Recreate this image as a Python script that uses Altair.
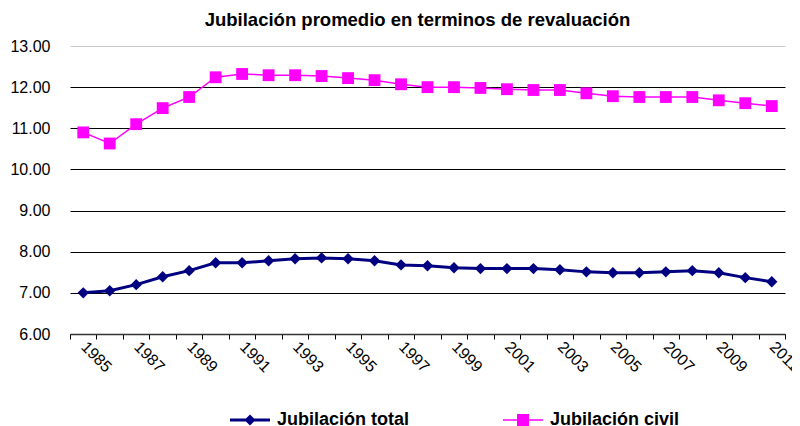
import altair as alt
import pandas as pd

years = [str(y) for y in range(1985, 2012)]
total = [7.00, 7.05, 7.20, 7.39, 7.54, 7.73, 7.73, 7.78, 7.83, 7.85, 7.83, 7.78,
         7.68, 7.66, 7.61, 7.59, 7.59, 7.59, 7.56, 7.51, 7.49, 7.49, 7.51, 7.54,
         7.49, 7.37, 7.27]
civil = [10.90, 10.63, 11.10, 11.49, 11.76, 12.24, 12.32, 12.29, 12.29, 12.27, 12.22,
         12.17, 12.07, 12.00, 12.00, 11.98, 11.95, 11.93, 11.93, 11.85, 11.78, 11.76,
         11.76, 11.76, 11.68, 11.61, 11.54]
series_names = ["Jubilación total", "Jubilación civil"]
y_ticks = [6, 7, 8, 9, 10, 11, 12, 13]

df_total = pd.DataFrame({"year": years, "value": total, "series": series_names[0]})
df_civil = pd.DataFrame({"year": years, "value": civil, "series": series_names[1]})

FONT = "Liberation Sans"

x_enc = alt.X(
    "year:O",
    scale=alt.Scale(type="band", paddingInner=0, paddingOuter=0),
    axis=alt.Axis(
        title=None, labelAngle=45, labelAlign="left", labelBaseline="middle",
        labelExpr="toNumber(datum.value) % 2 == 1 ? datum.label : ''",
        labelOverlap=False, tickBand="extent", tickSize=5, tickColor="#000000",
        domainColor="#333333", domainWidth=1.5, labelFontSize=16, labelColor="#000000",
        labelFont=FONT, labelPadding=5, grid=False,
    ),
)
y_enc = alt.Y(
    "value:Q",
    scale=alt.Scale(domain=[6, 13], nice=False, zero=False),
    axis=alt.Axis(
        title=None, values=y_ticks, format=".2f", domain=False, ticks=False,
        labelPadding=20, labelFontSize=16, labelFont=FONT, labelColor="#000000",
        grid=True,
        gridColor={"condition": {"test": "datum.value === 13", "value": "#c8c8c8"}, "value": "#000000"},
        gridWidth=1.2,
    ),
)

diamond_path = "M-1,-0.075L1,-0.075L1,0.075L-1,0.075Z M0,-0.28L0.28,0L0,0.28L-0.28,0Z"
square_path = "M-1,-0.04L1,-0.04L1,0.04L-1,0.04Z M-0.3,-0.3L0.3,-0.3L0.3,0.3L-0.3,0.3Z"


def series_layer(df, name, color, shape, size, width, path, lx):
    base = alt.Chart(df).encode(x=x_enc, y=y_enc)
    line = base.mark_line(strokeWidth=width, color=color)
    pts = base.mark_point(shape=shape, filled=True, size=size, opacity=1).encode(
        color=alt.Color(
            "series:N",
            scale=alt.Scale(domain=[name], range=[color]),
            legend=alt.Legend(
                title=None, orient="none", legendX=lx, legendY=354, padding=0,
                symbolType=path, symbolSize=1600, symbolOpacity=1,
                symbolFillColor=color, symbolStrokeWidth=0,
                labelFontSize=18, labelFontWeight="bold", labelFont=FONT,
                labelColor="#000000", labelOffset=7,
            ),
        )
    )
    return alt.layer(line, pts)


chart = (
    alt.layer(
        series_layer(df_total, series_names[0], "#000080", "diamond", 130, 3, diamond_path, 160),
        series_layer(df_civil, series_names[1], "#FF00FF", "square", 140, 1.5, square_path, 433),
    )
    .resolve_scale(color="independent")
    .properties(
        width=715, height=288,
        autosize=alt.AutoSizeParams(type="none"),
        padding={"left": 62, "top": 38, "right": 7, "bottom": 110},
        title=alt.TitleParams(
            "Jubilación promedio en terminos de revaluación",
            font=FONT, fontSize=18.5, fontWeight="bold", color="#000000",
            anchor="middle", dx=-10, offset=9,
        ),
    )
    .configure_view(stroke=None)
)

chart.save("out.html", embed_options={"renderer": "svg", "actions": False})
